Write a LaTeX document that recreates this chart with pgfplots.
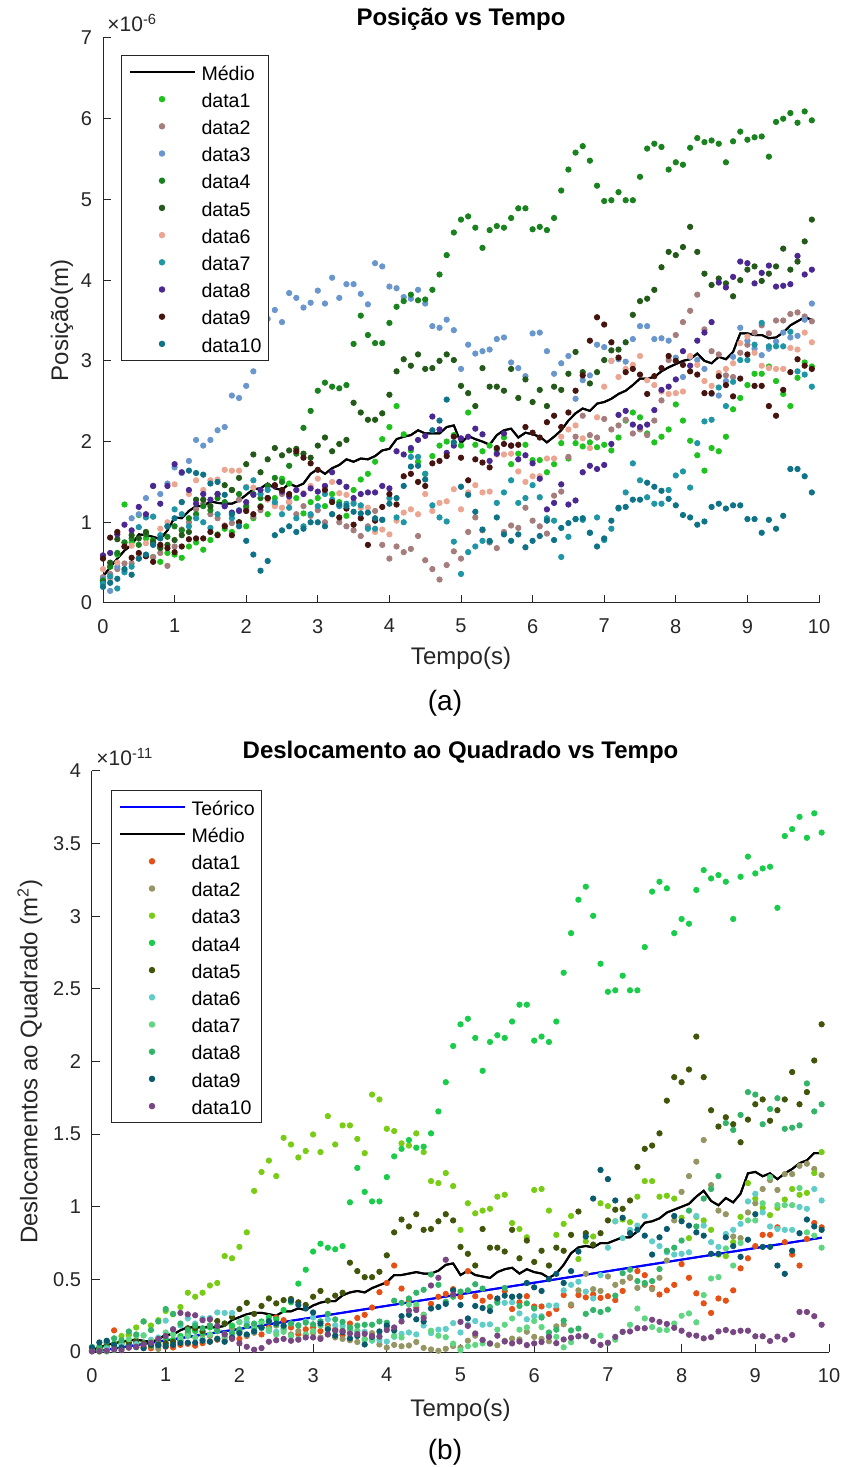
\documentclass[border=0pt]{standalone}
\usepackage{fontspec}
\setmainfont{Liberation Sans}
\usepackage{pgfplots}
\usepackage{pgfplotstable}
\pgfplotsset{compat=1.18}

\definecolor{axgray}{gray}{0.15}
\definecolor{tA}{RGB}{30,195,30}
\definecolor{tB}{RGB}{165,125,125}
\definecolor{tC}{RGB}{105,150,205}
\definecolor{tD}{RGB}{25,130,30}
\definecolor{tE}{RGB}{35,90,25}
\definecolor{tF}{RGB}{235,165,145}
\definecolor{tG}{RGB}{30,150,165}
\definecolor{tH}{RGB}{75,40,145}
\definecolor{tI}{RGB}{70,20,15}
\definecolor{tJ}{RGB}{15,115,135}
\definecolor{bA}{RGB}{230,80,20}
\definecolor{bB}{RGB}{150,150,100}
\definecolor{bC}{RGB}{120,205,20}
\definecolor{bD}{RGB}{25,205,75}
\definecolor{bE}{RGB}{65,85,10}
\definecolor{bF}{RGB}{95,205,200}
\definecolor{bG}{RGB}{95,215,130}
\definecolor{bH}{RGB}{50,180,105}
\definecolor{bI}{RGB}{10,90,110}
\definecolor{bJ}{RGB}{120,70,130}

% position of each particle (units of 1e-6 m), t in s
\pgfplotstableread[row sep=\\]{t y\\
0.0 0.28\\0.1 0.45\\0.2 0.60\\0.3 1.22\\0.4 0.75\\0.5 1.09\\0.6 0.80\\0.7 0.57\\0.8 0.51\\0.9 0.62\\
1.0 0.60\\1.1 0.56\\1.2 0.70\\1.3 0.75\\1.4 0.66\\1.5 0.78\\1.6 0.85\\1.7 0.92\\1.8 0.88\\1.9 1.00\\
2.0 0.95\\2.1 1.05\\2.2 1.20\\2.3 1.10\\2.4 1.30\\2.5 1.54\\2.6 1.48\\2.7 1.30\\2.8 1.11\\2.9 1.25\\
3.0 1.30\\3.1 1.20\\3.2 1.35\\3.3 1.25\\3.4 1.08\\3.5 1.40\\3.6 1.53\\3.7 1.60\\3.8 1.75\\3.9 2.03\\
4.0 2.18\\4.1 2.44\\4.2 2.09\\4.3 1.89\\4.4 1.75\\4.5 1.60\\4.6 1.82\\4.7 1.95\\4.8 2.00\\4.9 2.08\\
5.0 1.95\\5.1 2.36\\5.2 1.96\\5.3 1.88\\5.4 1.95\\5.5 1.90\\5.6 2.05\\5.7 1.72\\5.8 1.85\\5.9 1.96\\
6.0 1.77\\6.1 1.77\\6.2 1.62\\6.3 1.72\\6.4 1.98\\6.5 1.79\\6.6 1.98\\6.7 1.94\\6.8 1.99\\6.9 1.93\\
7.0 1.96\\7.1 1.89\\7.2 2.05\\7.3 2.26\\7.4 2.36\\7.5 2.30\\7.6 2.10\\7.7 1.99\\7.8 2.06\\7.9 2.15\\
8.0 2.46\\8.1 2.26\\8.2 2.01\\8.3 1.83\\8.4 1.64\\8.5 1.92\\8.6 1.88\\8.7 2.06\\8.8 2.40\\8.9 2.54\\
9.0 2.70\\9.1 2.84\\9.2 2.84\\9.3 2.93\\9.4 2.75\\9.5 2.59\\9.6 2.44\\9.7 2.79\\9.8 2.98\\9.9 2.93\\
}\dA
\pgfplotstableread[row sep=\\]{t y\\
0.0 0.32\\0.1 0.36\\0.2 0.42\\0.3 0.49\\0.4 0.49\\0.5 0.55\\0.6 0.58\\0.7 0.57\\0.8 0.62\\0.9 0.46\\
1.0 0.70\\1.1 0.91\\1.2 1.00\\1.3 1.16\\1.4 1.23\\1.5 1.10\\1.6 1.05\\1.7 0.96\\1.8 0.99\\1.9 1.28\\
2.0 1.17\\2.1 1.07\\2.2 1.15\\2.3 1.30\\2.4 1.22\\2.5 1.35\\2.6 1.25\\2.7 1.10\\2.8 1.20\\2.9 1.08\\
3.0 1.15\\3.1 1.00\\3.2 1.10\\3.3 1.00\\3.4 0.95\\3.5 0.90\\3.6 0.83\\3.7 0.95\\3.8 1.14\\3.9 0.72\\
4.0 0.55\\4.1 0.70\\4.2 0.63\\4.3 0.67\\4.4 0.83\\4.5 0.53\\4.6 0.42\\4.7 0.29\\4.8 0.47\\4.9 0.64\\
5.0 0.55\\5.1 0.88\\5.2 1.06\\5.3 0.90\\5.4 0.75\\5.5 0.68\\5.6 0.88\\5.7 0.96\\5.8 0.93\\5.9 1.18\\
6.0 1.02\\6.1 0.95\\6.2 0.86\\6.3 1.33\\6.4 1.38\\6.5 1.81\\6.6 2.06\\6.7 2.32\\6.8 2.08\\6.9 2.05\\
7.0 2.28\\7.1 2.15\\7.2 2.20\\7.3 2.27\\7.4 2.10\\7.5 2.15\\7.6 2.08\\7.7 2.26\\7.8 2.51\\7.9 3.01\\
8.0 3.32\\8.1 3.48\\8.2 3.62\\8.3 3.82\\8.4 3.39\\8.5 3.12\\8.6 3.08\\8.7 2.82\\8.8 2.80\\8.9 3.10\\
9.0 3.20\\9.1 3.35\\9.2 3.44\\9.3 3.34\\9.4 3.50\\9.5 3.50\\9.6 3.58\\9.7 3.60\\9.8 3.55\\9.9 3.49\\
}\dB
\pgfplotstableread[row sep=\\]{t y\\
0.0 0.30\\0.1 0.15\\0.2 0.45\\0.3 0.75\\0.4 1.05\\0.5 1.10\\0.6 1.30\\0.7 1.45\\0.8 1.35\\0.9 1.48\\
1.0 1.68\\1.1 1.61\\1.2 1.76\\1.3 2.02\\1.4 1.95\\1.5 2.02\\1.6 2.14\\1.7 2.18\\1.8 2.57\\1.9 2.54\\
2.0 2.69\\2.1 2.87\\2.2 3.33\\2.3 3.52\\2.4 3.63\\2.5 3.48\\2.6 3.84\\2.7 3.78\\2.8 3.66\\2.9 3.72\\
3.0 3.87\\3.1 3.71\\3.2 4.03\\3.3 3.78\\3.4 3.95\\3.5 3.95\\3.6 3.83\\3.7 3.70\\3.8 4.21\\3.9 4.17\\
4.0 3.92\\4.1 3.90\\4.2 3.79\\4.3 3.77\\4.4 3.88\\4.5 3.71\\4.6 3.43\\4.7 3.41\\4.8 3.51\\4.9 3.38\\
5.0 2.90\\5.1 3.20\\5.2 3.09\\5.3 3.12\\5.4 3.14\\5.5 3.27\\5.6 3.29\\5.7 2.98\\5.8 2.91\\5.9 2.81\\
6.0 3.34\\6.1 3.35\\6.2 3.12\\6.3 2.84\\6.4 2.97\\6.5 3.06\\6.6 2.53\\6.7 2.76\\6.8 2.82\\6.9 3.20\\
7.0 3.17\\7.1 3.00\\7.2 3.02\\7.3 2.99\\7.4 3.27\\7.5 3.43\\7.6 3.43\\7.7 3.27\\7.8 3.28\\7.9 3.25\\
8.0 3.04\\8.1 2.80\\8.2 3.05\\8.3 3.01\\8.4 2.90\\8.5 2.59\\8.6 2.57\\8.7 2.75\\8.8 3.05\\8.9 3.41\\
9.0 3.25\\9.1 3.15\\9.2 3.07\\9.3 3.15\\9.4 3.24\\9.5 3.35\\9.6 3.29\\9.7 3.31\\9.8 3.51\\9.9 3.71\\
}\dC
\pgfplotstableread[row sep=\\]{t y\\
0.0 0.28\\0.1 0.45\\0.2 0.62\\0.3 0.75\\0.4 0.80\\0.5 0.72\\0.6 0.85\\0.7 0.78\\0.8 0.70\\0.9 0.82\\
1.0 0.95\\1.1 0.90\\1.2 1.05\\1.3 1.10\\1.4 1.20\\1.5 1.15\\1.6 1.30\\1.7 1.25\\1.8 1.40\\1.9 1.35\\
2.0 1.20\\2.1 1.35\\2.2 1.30\\2.3 1.45\\2.4 1.55\\2.5 1.50\\2.6 1.70\\2.7 1.85\\2.8 2.17\\2.9 2.38\\
3.0 2.63\\3.1 2.73\\3.2 2.68\\3.3 2.66\\3.4 2.70\\3.5 3.21\\3.6 3.56\\3.7 3.32\\3.8 3.22\\3.9 3.22\\
4.0 3.47\\4.1 3.67\\4.2 3.74\\4.3 3.82\\4.4 3.75\\4.5 3.76\\4.6 3.88\\4.7 4.07\\4.8 4.31\\4.9 4.59\\
5.0 4.75\\5.1 4.79\\5.2 4.65\\5.3 4.40\\5.4 4.62\\5.5 4.67\\5.6 4.65\\5.7 4.77\\5.8 4.89\\5.9 4.89\\
6.0 4.63\\6.1 4.66\\6.2 4.62\\6.3 4.77\\6.4 5.11\\6.5 5.37\\6.6 5.58\\6.7 5.66\\6.8 5.48\\6.9 5.17\\
7.0 4.98\\7.1 4.99\\7.2 5.09\\7.3 4.99\\7.4 4.99\\7.5 5.28\\7.6 5.63\\7.7 5.69\\7.8 5.65\\7.9 5.37\\
8.0 5.46\\8.1 5.43\\8.2 5.64\\8.3 5.76\\8.4 5.71\\8.5 5.73\\8.6 5.69\\8.7 5.46\\8.8 5.72\\8.9 5.84\\
9.0 5.74\\9.1 5.77\\9.2 5.78\\9.3 5.53\\9.4 5.96\\9.5 6.00\\9.6 6.07\\9.7 5.95\\9.8 6.09\\9.9 5.98\\
}\dD
\pgfplotstableread[row sep=\\]{t y\\
0.0 0.25\\0.1 0.50\\0.2 0.79\\0.3 0.70\\0.4 0.84\\0.5 0.80\\0.6 0.88\\0.7 0.75\\0.8 0.68\\0.9 0.72\\
1.0 0.78\\1.1 0.84\\1.2 0.88\\1.3 1.28\\1.4 1.28\\1.5 1.20\\1.6 1.35\\1.7 1.46\\1.8 1.40\\1.9 1.55\\
2.0 1.72\\2.1 1.84\\2.2 1.62\\2.3 1.78\\2.4 1.92\\2.5 1.83\\2.6 1.89\\2.7 1.91\\2.8 1.85\\2.9 1.80\\
3.0 1.95\\3.1 2.05\\3.2 1.88\\3.3 1.97\\3.4 2.02\\3.5 2.48\\3.6 2.36\\3.7 2.27\\3.8 2.27\\3.9 2.35\\
4.0 2.58\\4.1 2.87\\4.2 3.02\\4.3 2.94\\4.4 3.08\\4.5 2.90\\4.6 2.91\\4.7 3.00\\4.8 3.08\\4.9 3.01\\
5.0 2.69\\5.1 2.60\\5.2 2.44\\5.3 2.91\\5.4 2.68\\5.5 2.68\\5.6 2.63\\5.7 2.90\\5.8 2.54\\5.9 2.77\\
6.0 2.49\\6.1 2.64\\6.2 2.44\\6.3 2.68\\6.4 2.64\\6.5 2.84\\6.6 3.11\\6.7 2.86\\6.8 2.72\\6.9 2.86\\
7.0 3.01\\7.1 3.13\\7.2 3.14\\7.3 3.23\\7.4 3.57\\7.5 3.74\\7.6 3.77\\7.7 3.88\\7.8 4.16\\7.9 4.35\\
8.0 4.31\\8.1 4.41\\8.2 4.66\\8.3 4.35\\8.4 4.08\\8.5 3.94\\8.6 4.02\\8.7 3.96\\8.8 3.80\\8.9 4.00\\
9.0 4.13\\9.1 4.17\\9.2 3.99\\9.3 4.08\\9.4 4.17\\9.5 4.39\\9.6 4.13\\9.7 4.23\\9.8 4.48\\9.9 4.75\\
}\dE
\pgfplotstableread[row sep=\\]{t y\\
0.0 0.42\\0.1 0.30\\0.2 0.50\\0.3 0.40\\0.4 0.71\\0.5 0.60\\0.6 0.74\\0.7 1.07\\0.8 0.92\\0.9 1.00\\
1.0 1.47\\1.1 1.25\\1.2 1.35\\1.3 1.52\\1.4 1.40\\1.5 1.52\\1.6 1.53\\1.7 1.65\\1.8 1.64\\1.9 1.64\\
2.0 1.44\\2.1 1.43\\2.2 1.35\\2.3 1.28\\2.4 1.20\\2.5 1.18\\2.6 1.26\\2.7 1.40\\2.8 1.36\\2.9 1.45\\
3.0 1.54\\3.1 1.45\\3.2 1.50\\3.3 1.36\\3.4 1.34\\3.5 1.25\\3.6 1.18\\3.7 1.18\\3.8 0.88\\3.9 0.91\\
4.0 0.85\\4.1 1.02\\4.2 1.12\\4.3 1.16\\4.4 1.10\\4.5 1.35\\4.6 1.14\\4.7 1.24\\4.8 1.26\\4.9 1.41\\
5.0 1.16\\5.1 1.37\\5.2 1.46\\5.3 1.37\\5.4 1.38\\5.5 1.84\\5.6 1.84\\5.7 1.85\\5.8 1.63\\5.9 1.50\\
6.0 1.57\\6.1 1.57\\6.2 1.79\\6.3 1.79\\6.4 2.06\\6.5 2.15\\6.6 2.20\\6.7 2.04\\6.8 1.92\\6.9 2.30\\
7.0 2.68\\7.1 3.00\\7.2 2.80\\7.3 2.90\\7.4 2.95\\7.5 3.06\\7.6 2.76\\7.7 2.70\\7.8 2.62\\7.9 2.59\\
8.0 2.60\\8.1 2.62\\8.2 3.06\\8.3 2.95\\8.4 2.75\\8.5 2.69\\8.6 2.85\\8.7 2.90\\8.8 2.97\\8.9 3.22\\
9.0 3.30\\9.1 3.10\\9.2 2.94\\9.3 2.91\\9.4 2.90\\9.5 2.90\\9.6 3.16\\9.7 3.14\\9.8 3.35\\9.9 3.23\\
}\dF
\pgfplotstableread[row sep=\\]{t y\\
0.0 0.24\\0.1 0.33\\0.2 0.18\\0.3 0.38\\0.4 0.45\\0.5 0.94\\0.6 1.06\\0.7 1.07\\0.8 0.84\\0.9 0.95\\
1.0 1.16\\1.1 1.10\\1.2 0.95\\1.3 1.05\\1.4 1.00\\1.5 0.93\\1.6 1.10\\1.7 1.20\\1.8 1.05\\1.9 1.15\\
2.0 1.43\\2.1 1.52\\2.2 1.35\\2.3 1.40\\2.4 1.25\\2.5 1.10\\2.6 1.18\\2.7 1.05\\2.8 0.95\\2.9 1.10\\
3.0 1.20\\3.1 1.35\\3.2 1.28\\3.3 1.20\\3.4 1.23\\3.5 1.23\\3.6 1.21\\3.7 0.92\\3.8 0.92\\3.9 1.03\\
4.0 1.30\\4.1 1.06\\4.2 1.00\\4.3 1.81\\4.4 1.81\\4.5 1.60\\4.6 1.21\\4.7 1.06\\4.8 1.01\\4.9 0.76\\
5.0 0.36\\5.1 0.63\\5.2 0.70\\5.3 0.77\\5.4 0.76\\5.5 1.24\\5.6 1.37\\5.7 1.52\\5.8 1.24\\5.9 1.30\\
6.0 1.46\\6.1 1.31\\6.2 1.05\\6.3 1.02\\6.4 0.57\\6.5 0.82\\6.6 1.04\\6.7 1.03\\6.8 0.87\\6.9 1.06\\
7.0 0.78\\7.1 0.92\\7.2 1.17\\7.3 1.37\\7.4 1.73\\7.5 1.52\\7.6 1.31\\7.7 1.23\\7.8 1.23\\7.9 1.40\\
8.0 1.58\\8.1 1.63\\8.2 1.43\\8.3 1.98\\8.4 2.25\\8.5 2.27\\8.6 2.67\\8.7 2.44\\8.8 2.74\\8.9 3.01\\
9.0 3.01\\9.1 3.20\\9.2 3.47\\9.3 3.18\\9.4 3.18\\9.5 3.18\\9.6 3.36\\9.7 2.87\\9.8 2.83\\9.9 2.68\\
}\dG
\pgfplotstableread[row sep=\\]{t y\\
0.0 0.59\\0.1 0.62\\0.2 0.85\\0.3 0.97\\0.4 0.90\\0.5 1.19\\0.6 1.10\\0.7 1.45\\0.8 1.23\\0.9 1.45\\
1.0 1.72\\1.1 1.62\\1.2 1.40\\1.3 1.23\\1.4 1.35\\1.5 1.28\\1.6 1.35\\1.7 1.20\\1.8 1.12\\1.9 1.14\\
2.0 1.25\\2.1 1.34\\2.2 1.40\\2.3 1.30\\2.4 1.45\\2.5 1.38\\2.6 1.32\\2.7 1.40\\2.8 1.35\\2.9 1.42\\
3.0 1.38\\3.1 1.45\\3.2 1.62\\3.3 1.50\\3.4 1.44\\3.5 1.30\\3.6 1.35\\3.7 1.37\\3.8 1.37\\3.9 1.45\\
4.0 1.42\\4.1 1.88\\4.2 1.84\\4.3 1.92\\4.4 2.02\\4.5 2.07\\4.6 2.31\\4.7 2.15\\4.8 1.86\\4.9 1.95\\
5.0 2.04\\5.1 2.06\\5.2 2.16\\5.3 2.09\\5.4 1.76\\5.5 1.85\\5.6 2.10\\5.7 1.95\\5.8 1.78\\5.9 1.83\\
6.0 1.73\\6.1 1.54\\6.2 1.16\\6.3 1.24\\6.4 1.47\\6.5 1.22\\6.6 1.27\\6.7 1.62\\6.8 1.70\\6.9 1.66\\
7.0 1.71\\7.1 1.97\\7.2 2.33\\7.3 2.38\\7.4 2.21\\7.5 2.18\\7.6 2.21\\7.7 2.39\\7.8 2.64\\7.9 2.68\\
8.0 2.77\\8.1 3.12\\8.2 2.94\\8.3 3.25\\8.4 3.35\\8.5 3.48\\8.6 3.97\\8.7 3.91\\8.8 4.04\\8.9 4.23\\
9.0 4.21\\9.1 3.96\\9.2 4.09\\9.3 4.18\\9.4 3.92\\9.5 3.93\\9.6 3.95\\9.7 4.30\\9.8 4.07\\9.9 4.13\\
}\dH
\pgfplotstableread[row sep=\\]{t y\\
0.0 0.55\\0.1 0.81\\0.2 0.88\\0.3 0.70\\0.4 0.56\\0.5 0.62\\0.6 0.58\\0.7 0.51\\0.8 0.72\\0.9 0.68\\
1.0 0.63\\1.1 0.70\\1.2 0.79\\1.3 0.80\\1.4 0.80\\1.5 0.88\\1.6 0.84\\1.7 0.95\\1.8 0.84\\1.9 1.00\\
2.0 1.14\\2.1 1.10\\2.2 1.19\\2.3 1.30\\2.4 1.46\\2.5 1.40\\2.6 1.35\\2.7 1.88\\2.8 1.80\\2.9 1.73\\
3.0 1.65\\3.1 1.40\\3.2 1.25\\3.3 1.06\\3.4 1.17\\3.5 0.97\\3.6 1.05\\3.7 0.72\\3.8 1.02\\3.9 1.19\\
4.0 1.35\\4.1 1.22\\4.2 1.57\\4.3 1.60\\4.4 1.50\\4.5 1.45\\4.6 1.73\\4.7 1.76\\4.8 1.82\\4.9 2.06\\
5.0 1.80\\5.1 1.52\\5.2 1.78\\5.3 1.74\\5.4 1.68\\5.5 1.92\\5.6 1.97\\5.7 1.95\\5.8 1.96\\5.9 2.18\\
6.0 2.11\\6.1 2.05\\6.2 2.24\\6.3 2.32\\6.4 2.18\\6.5 2.36\\6.6 2.63\\6.7 2.82\\6.8 3.25\\6.9 3.54\\
7.0 3.45\\7.1 3.23\\7.2 3.04\\7.3 2.86\\7.4 2.90\\7.5 2.83\\7.6 2.59\\7.7 2.81\\7.8 2.91\\7.9 3.06\\
8.0 3.00\\8.1 2.95\\8.2 2.87\\8.3 2.83\\8.4 2.60\\8.5 2.60\\8.6 2.81\\8.7 2.70\\8.8 2.56\\8.9 2.78\\
9.0 3.08\\9.1 2.69\\9.2 2.69\\9.3 2.44\\9.4 2.32\\9.5 2.64\\9.6 2.86\\9.7 3.02\\9.8 2.94\\9.9 2.90\\
}\dI
\pgfplotstableread[row sep=\\]{t y\\
0.0 0.20\\0.1 0.25\\0.2 0.30\\0.3 0.42\\0.4 0.35\\0.5 0.55\\0.6 0.60\\0.7 0.72\\0.8 0.80\\0.9 0.95\\
1.0 1.05\\1.1 1.25\\1.2 1.64\\1.3 1.61\\1.4 1.59\\1.5 1.48\\1.6 1.50\\1.7 1.34\\1.8 1.10\\1.9 0.95\\
2.0 0.77\\2.1 0.60\\2.2 0.40\\2.3 0.52\\2.4 0.84\\2.5 0.90\\2.6 0.95\\2.7 0.88\\2.8 0.92\\2.9 1.00\\
3.0 1.00\\3.1 0.95\\3.2 1.10\\3.3 1.22\\3.4 1.20\\3.5 1.13\\3.6 1.11\\3.7 1.12\\3.8 1.05\\3.9 1.03\\
4.0 1.23\\4.1 1.30\\4.2 1.45\\4.3 1.69\\4.4 1.70\\4.5 1.53\\4.6 2.14\\4.7 2.26\\4.8 2.52\\4.9 1.99\\
5.0 1.44\\5.1 1.34\\5.2 1.13\\5.3 0.91\\5.4 0.77\\5.5 1.06\\5.6 0.85\\5.7 0.77\\5.8 0.85\\5.9 0.69\\
6.0 0.77\\6.1 0.83\\6.2 1.02\\6.3 0.78\\6.4 0.93\\6.5 0.99\\6.6 1.04\\6.7 1.05\\6.8 0.87\\6.9 0.70\\
7.0 0.80\\7.1 1.02\\7.2 1.18\\7.3 1.19\\7.4 1.28\\7.5 1.28\\7.6 1.49\\7.7 1.44\\7.8 1.39\\7.9 1.29\\
8.0 1.21\\8.1 1.09\\8.2 1.06\\8.3 0.97\\8.4 1.01\\8.5 1.19\\8.6 1.23\\8.7 1.17\\8.8 1.21\\8.9 1.21\\
9.0 1.04\\9.1 1.04\\9.2 0.87\\9.3 1.03\\9.4 0.92\\9.5 1.08\\9.6 1.66\\9.7 1.66\\9.8 1.57\\9.9 1.37\\
}\dJ
% mean position (1e-6 m)
\pgfplotstableread[row sep=\\]{t y\\
0.0 0.33\\0.1 0.44\\0.2 0.55\\0.3 0.65\\0.4 0.72\\0.5 0.85\\0.6 0.84\\0.7 0.82\\0.8 0.79\\0.9 0.90\\
1.0 1.06\\1.1 1.05\\1.2 1.14\\1.3 1.20\\1.4 1.20\\1.5 1.26\\1.6 1.24\\1.7 1.23\\1.8 1.23\\1.9 1.27\\
2.0 1.34\\2.1 1.41\\2.2 1.42\\2.3 1.48\\2.4 1.42\\2.5 1.40\\2.6 1.48\\2.7 1.44\\2.8 1.48\\2.9 1.60\\
3.0 1.66\\3.1 1.60\\3.2 1.67\\3.3 1.71\\3.4 1.78\\3.5 1.75\\3.6 1.79\\3.7 1.78\\3.8 1.82\\3.9 1.89\\
4.0 1.91\\4.1 2.03\\4.2 2.06\\4.3 2.08\\4.4 2.14\\4.5 2.10\\4.6 2.10\\4.7 2.10\\4.8 2.18\\4.9 2.20\\
5.0 1.98\\5.1 2.07\\5.2 2.03\\5.3 2.00\\5.4 1.96\\5.5 2.08\\5.6 2.14\\5.7 2.16\\5.8 2.05\\5.9 2.11\\
6.0 2.09\\6.1 2.06\\6.2 1.99\\6.3 2.06\\6.4 2.14\\6.5 2.26\\6.6 2.35\\6.7 2.41\\6.8 2.38\\6.9 2.47\\
7.0 2.49\\7.1 2.53\\7.2 2.59\\7.3 2.63\\7.4 2.70\\7.5 2.78\\7.6 2.78\\7.7 2.80\\7.8 2.87\\7.9 2.92\\
8.0 2.96\\8.1 3.00\\8.2 3.02\\8.3 3.09\\8.4 3.00\\8.5 2.97\\8.6 3.05\\8.7 3.02\\8.8 3.11\\8.9 3.34\\
9.0 3.34\\9.1 3.32\\9.2 3.32\\9.3 3.28\\9.4 3.29\\9.5 3.35\\9.6 3.44\\9.7 3.49\\9.8 3.54\\9.9 3.51\\
}\mA
% mean squared displacement (1e-11 m^2)
\pgfplotstableread[row sep=\\]{t y\\
0.0 0.014\\0.1 0.030\\0.2 0.050\\0.3 0.060\\0.4 0.070\\0.5 0.080\\0.6 0.085\\0.7 0.077\\0.8 0.070\\0.9 0.085\\
1.0 0.12\\1.1 0.12\\1.2 0.15\\1.3 0.17\\1.4 0.17\\1.5 0.17\\1.6 0.17\\1.7 0.17\\1.8 0.18\\1.9 0.22\\
2.0 0.24\\2.1 0.26\\2.2 0.27\\2.3 0.27\\2.4 0.26\\2.5 0.25\\2.6 0.28\\2.7 0.28\\2.8 0.30\\2.9 0.29\\
3.0 0.32\\3.1 0.34\\3.2 0.35\\3.3 0.35\\3.4 0.39\\3.5 0.41\\3.6 0.42\\3.7 0.41\\3.8 0.44\\3.9 0.46\\
4.0 0.48\\4.1 0.53\\4.2 0.53\\4.3 0.54\\4.4 0.55\\4.5 0.54\\4.6 0.54\\4.7 0.56\\4.8 0.60\\4.9 0.61\\
5.0 0.53\\5.1 0.56\\5.2 0.53\\5.3 0.52\\5.4 0.51\\5.5 0.55\\5.6 0.57\\5.7 0.58\\5.8 0.54\\5.9 0.57\\
6.0 0.55\\6.1 0.54\\6.2 0.51\\6.3 0.54\\6.4 0.60\\6.5 0.68\\6.6 0.72\\6.7 0.73\\6.8 0.72\\6.9 0.75\\
7.0 0.75\\7.1 0.77\\7.2 0.79\\7.3 0.79\\7.4 0.83\\7.5 0.89\\7.6 0.90\\7.7 0.92\\7.8 0.96\\7.9 0.98\\
8.0 1.00\\8.1 1.02\\8.2 1.07\\8.3 1.11\\8.4 1.04\\8.5 1.01\\8.6 1.06\\8.7 1.03\\8.8 1.09\\8.9 1.23\\
9.0 1.24\\9.1 1.21\\9.2 1.23\\9.3 1.19\\9.4 1.23\\9.5 1.26\\9.6 1.30\\9.7 1.32\\9.8 1.37\\9.9 1.37\\
}\mB
% theoretical line (1e-11 m^2)
\pgfplotstableread[row sep=\\]{t y\\
0.0 0.0\\9.9 0.787\\
}\tB

\pgfplotsset{
  mdot/.style={only marks, mark=*, mark size=1.35pt,
    legend image code/.code={\draw[##1] plot coordinates {(16.25pt,0pt)};\path (0pt,0pt) (32.5pt,0pt);}},
  mline/.style={legend image code/.code={\draw[##1] (0pt,0pt) -- (32.5pt,0pt);}},
  common/.style={
    scale only axis, xmin=0, xmax=10, xtick={0,1,...,10},
    axis x line*=bottom, axis y line*=left, tick align=inside,
    axis line style={axgray, line width=0.5pt},
    major tick style={axgray, line width=0.5pt}, major tick length=4pt,
    ticklabel style={font=\fontsize{10}{12}\selectfont, text=axgray},
    /pgf/number format/assume math mode=true,
    xticklabel style={yshift=-4.5pt},
    yticklabel style={xshift=-2pt},
    label style={font=\fontsize{12}{14}\selectfont, text=axgray},
    every axis title/.style={at={(axis description cs:0.5,1)}, anchor=base, yshift=6pt,
      font=\bfseries\fontsize{12}{14}\selectfont},
    legend cell align=left,
    legend style={at={(0,1)}, anchor=north west, draw=axgray, line width=0.5pt, fill=white,
      font=\fontsize{9.8}{11}\selectfont, inner xsep=3.5pt, inner ysep=1.4pt,
      row sep=0pt, column sep=3pt,
      nodes={inner sep=0pt, text height=10.9pt, text depth=2.7pt}},
  }
}

\begin{document}
\begin{tikzpicture}
\path[use as bounding box] (0pt,0pt) rectangle (421.5pt,733.5pt);

% ---------------- (a) position vs time ----------------
\begin{axis}[common,
  at={(51.5pt,432pt)}, anchor=south west,
  width=358pt, height=282.5pt,
  ymin=0, ymax=7, ytick={0,1,...,7},
  title={Posição vs Tempo},
  xlabel={Tempo(s)},
  xlabel style={at={([yshift=-27.5pt]axis description cs:0.5,0)}, anchor=center},
  ylabel={Posição(m)},
  ylabel style={at={([xshift=-20.5pt]axis description cs:0,0.5)}, anchor=center},
  legend style={xshift=9pt, yshift=-8.5pt},
  after end axis/.code={\node[anchor=base west, inner sep=0pt, text=axgray, font=\fontsize{10.5}{12}\selectfont]
     at ([xshift=2pt,yshift=3pt]rel axis cs:0,1) {×10\textsuperscript{-6}};},
]
\addplot[mline, black, line width=1pt] table[x=t,y=y]{\mA}; \addlegendentry{Médio}
\addplot[mdot, tA] table[x=t,y=y]{\dA}; \addlegendentry{data1}
\addplot[mdot, tB] table[x=t,y=y]{\dB}; \addlegendentry{data2}
\addplot[mdot, tC] table[x=t,y=y]{\dC}; \addlegendentry{data3}
\addplot[mdot, tD] table[x=t,y=y]{\dD}; \addlegendentry{data4}
\addplot[mdot, tE] table[x=t,y=y]{\dE}; \addlegendentry{data5}
\addplot[mdot, tF] table[x=t,y=y]{\dF}; \addlegendentry{data6}
\addplot[mdot, tG] table[x=t,y=y]{\dG}; \addlegendentry{data7}
\addplot[mdot, tH] table[x=t,y=y]{\dH}; \addlegendentry{data8}
\addplot[mdot, tI] table[x=t,y=y]{\dI}; \addlegendentry{data9}
\addplot[mdot, tJ] table[x=t,y=y]{\dJ}; \addlegendentry{data10}
\addplot[black, line width=1pt, forget plot] table[x=t,y=y]{\mA};
\end{axis}
\node[font=\fontsize{14}{16}\selectfont, text=black] at (222.5pt,382pt) {(a)};

% ---------------- (b) squared displacement vs time ----------------
\begin{axis}[common,
  at={(46pt,57.5pt)}, anchor=south west,
  width=368.5pt, height=290.5pt,
  ymin=0, ymax=4, ytick={0,0.5,...,4},
  title={Deslocamento ao Quadrado vs Tempo},
  xlabel={Tempo(s)},
  xlabel style={at={([yshift=-29pt]axis description cs:0.5,0)}, anchor=center},
  ylabel={Deslocamentos ao Quadrado (m\textsuperscript{2})},
  ylabel style={at={([xshift=-31pt]axis description cs:0,0.5)}, anchor=center},
  legend style={xshift=9.5pt, yshift=-9.5pt},
  after end axis/.code={\node[anchor=base west, inner sep=0pt, text=axgray, font=\fontsize{10.5}{12}\selectfont]
     at ([xshift=2pt,yshift=2.5pt]rel axis cs:0,1) {×10\textsuperscript{-11}};},
]
\addplot[mline, blue, line width=1pt] table[x=t,y=y]{\tB}; \addlegendentry{Teórico}
\addplot[mline, black, line width=1pt] table[x=t,y=y]{\mB}; \addlegendentry{Médio}
\addplot[mdot, bA] table[x=t,y expr=\thisrow{y}^2/10]{\dA}; \addlegendentry{data1}
\addplot[mdot, bB] table[x=t,y expr=\thisrow{y}^2/10]{\dB}; \addlegendentry{data2}
\addplot[mdot, bC] table[x=t,y expr=\thisrow{y}^2/10]{\dC}; \addlegendentry{data3}
\addplot[mdot, bD] table[x=t,y expr=\thisrow{y}^2/10]{\dD}; \addlegendentry{data4}
\addplot[mdot, bE] table[x=t,y expr=\thisrow{y}^2/10]{\dE}; \addlegendentry{data5}
\addplot[mdot, bF] table[x=t,y expr=\thisrow{y}^2/10]{\dF}; \addlegendentry{data6}
\addplot[mdot, bG] table[x=t,y expr=\thisrow{y}^2/10]{\dG}; \addlegendentry{data7}
\addplot[mdot, bH] table[x=t,y expr=\thisrow{y}^2/10]{\dH}; \addlegendentry{data8}
\addplot[mdot, bI] table[x=t,y expr=\thisrow{y}^2/10]{\dI}; \addlegendentry{data9}
\addplot[mdot, bJ] table[x=t,y expr=\thisrow{y}^2/10]{\dJ}; \addlegendentry{data10}
\addplot[blue, line width=1pt, forget plot] table[x=t,y=y]{\tB};
\addplot[black, line width=1pt, forget plot] table[x=t,y=y]{\mB};
\end{axis}
\node[font=\fontsize{14}{16}\selectfont, text=black] at (222.5pt,7.5pt) {(b)};
\end{tikzpicture}
\end{document}
